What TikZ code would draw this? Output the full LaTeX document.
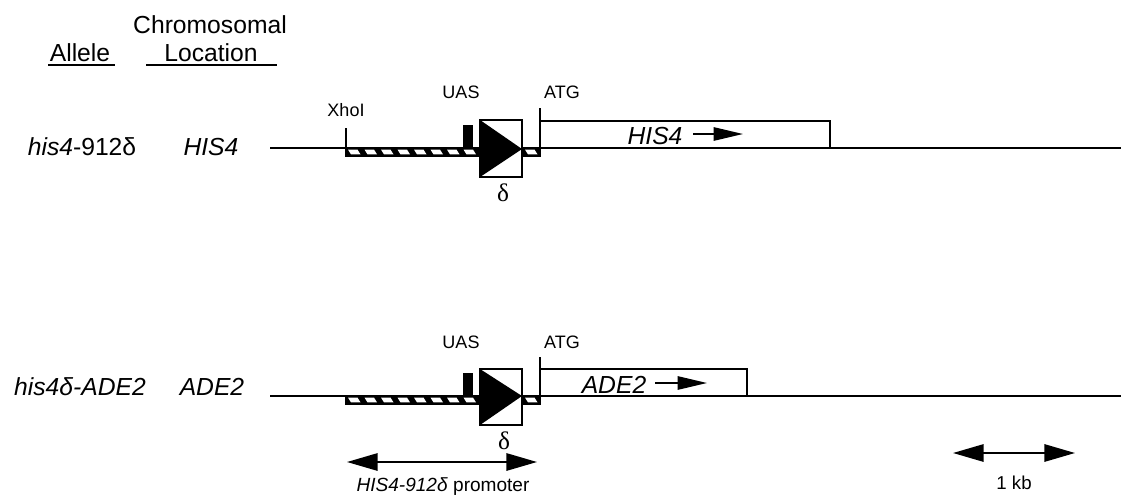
\documentclass[tikz,border=0pt]{standalone}
\usepackage{fontspec}
\setmainfont{Liberation Sans}
\newfontfamily\serifd{Liberation Serif}
\usetikzlibrary{arrows.meta}
\begin{document}
\begin{tikzpicture}[x=0.75pt,y=-0.75pt,line width=1.1pt,
  lbl/.style={font=\fontsize{18.5}{20}\selectfont,inner sep=0pt},
  sml/.style={font=\fontsize{13.5}{15}\selectfont,inner sep=0pt},
  dlt/.style={font=\serifd\fontsize{19}{20}\selectfont,inner sep=0pt},
  chrom/.style={line width=1.5pt},
  box/.style={draw=black,fill=white,line width=1.1pt},
  genearrow/.style={line width=1.3pt,-{Triangle[length=22pt,width=10pt]}},
  scalearrow/.style={line width=1.5pt,{Triangle[length=23pt,width=13pt]}-{Triangle[length=23pt,width=13pt]}}]
\useasboundingbox (0,0) rectangle (1121,496);

% headers
\node[lbl] (chr) at (210,25) {Chromosomal};
\node[lbl] (loc) at (211,53) {Location};
\node[lbl] (all) at (80,53) {Allele};
\draw[line width=1.3pt] (48,65) -- (115,65);
\draw[line width=1.3pt] (146,65) -- (277,65);

% ===== Row 1 =====
\node[lbl] (a1) at (82,147) {\textit{his4}-912δ};
\node[lbl] (c1) at (211,147) {\textit{HIS4}};
\coordinate (l1s) at (270,148);
\coordinate (l1e) at (1121,148);
\draw[chrom] (l1s) -- (l1e);
% hatched promoter bar
\filldraw[line width=1pt] (346,148) rectangle (540,156);
\foreach \i in {0,...,7}{
  \fill[white] ({348+16.5*\i},149.6) -- ++(9.5,0) -- ++(3,4.8) -- ++(-9.5,0) -- cycle;}
\fill[white] (525,149.6) -- ++(9.5,0) -- ++(3,4.8) -- ++(-9.5,0) -- cycle;
% XhoI
\node[sml] (xho) at (346,110) {XhoI};
\coordinate (x1t) at (346,128);
\coordinate (x1b) at (346,156);
\draw[line width=1.1pt] (x1t) -- (x1b);
% UAS
\node[sml] (uas1) at (461,92) {UAS};
\fill (463,125) rectangle (473,148);
% delta
\draw[box] (480,120) rectangle (522,177);
\fill (480,120) -- (522,149) -- (480,177) -- cycle;
\node[dlt] (d1) at (503,193) {δ};
% ATG and gene
\node[sml] (atg1) at (562,92) {ATG};
\coordinate (t1t) at (540,108);
\coordinate (t1b) at (540,156);
\draw[line width=1.1pt] (t1t) -- (t1b);
\draw[line width=1.1pt] (540,121) -- (830,121) -- (830,148);
\node[lbl] (g1) at (655,136) {\textit{HIS4}};
\coordinate (g1a) at (693,134);
\coordinate (g1b) at (743,134);
\draw[genearrow] (g1a) -- (g1b);

% ===== Row 2 =====
\node[lbl] (a2) at (80,387) {\textit{his4δ-ADE2}};
\node[lbl] (c2) at (212,387) {\textit{ADE2}};
\coordinate (l2s) at (270,396);
\coordinate (l2e) at (1121,396);
\draw[chrom] (l2s) -- (l2e);
\filldraw[line width=1pt] (346,396) rectangle (540,404);
\foreach \i in {0,...,7}{
  \fill[white] ({348+16.5*\i},397.6) -- ++(9.5,0) -- ++(3,4.8) -- ++(-9.5,0) -- cycle;}
\fill[white] (525,397.6) -- ++(9.5,0) -- ++(3,4.8) -- ++(-9.5,0) -- cycle;
\node[sml] (uas2) at (461,342) {UAS};
\fill (463,373) rectangle (473,396);
\draw[box] (480,369) rectangle (522,425);
\fill (480,369) -- (522,396) -- (480,425) -- cycle;
\node[dlt] (d2) at (504,441) {δ};
\node[sml] (atg2) at (562,342) {ATG};
\coordinate (t2t) at (540,357);
\coordinate (t2b) at (540,404);
\draw[line width=1.1pt] (t2t) -- (t2b);
\draw[line width=1.1pt] (540,369) -- (747,369) -- (747,396);
\node[lbl] (g2) at (614,385) {\textit{ADE2}};
\coordinate (g2a) at (655,383);
\coordinate (g2b) at (707,383);
\draw[genearrow] (g2a) -- (g2b);

% ===== scale arrows =====
\coordinate (p1) at (347,462);
\coordinate (p2) at (537,462);
\draw[scalearrow] (p1) -- (p2);
\node[font=\fontsize{14.3}{16}\selectfont,inner sep=0pt] (prom) at (443,487) {\textit{HIS4-912δ} promoter};
\coordinate (k1) at (953,453);
\coordinate (k2) at (1075,453);
\draw[scalearrow] (k1) -- (k2);
\node[font=\fontsize{14}{16}\selectfont,inner sep=0pt] (kb) at (1014,483) {1 kb};
\end{tikzpicture}
\end{document}
